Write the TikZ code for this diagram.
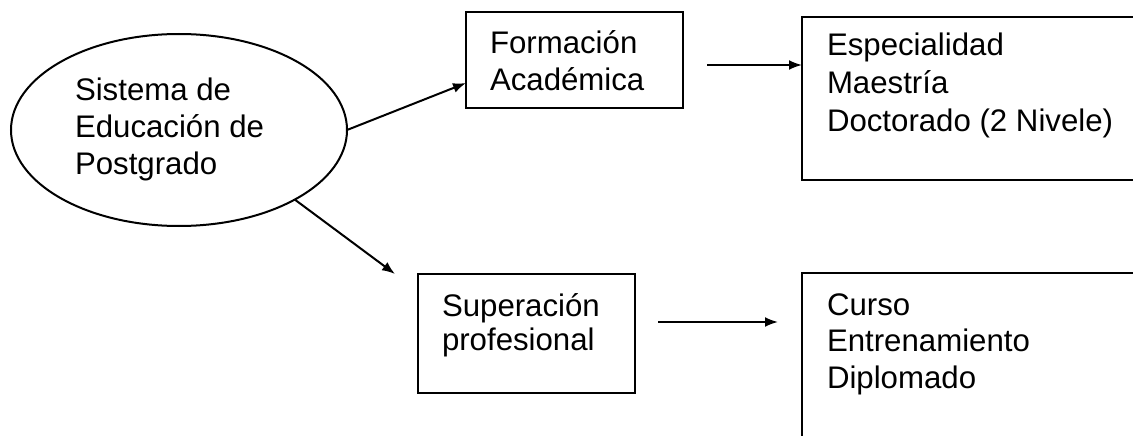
\documentclass[tikz,border=0pt]{standalone}
\usepackage{fontspec}
\setmainfont{Liberation Sans}
\usetikzlibrary{shapes.geometric,arrows.meta}
\begin{document}
\begin{tikzpicture}[x=1pt,y=-1pt,
  every node/.style={inner sep=0pt,outer sep=0pt},
  boxshape/.style={draw,line width=2pt,rectangle,anchor=north west},
  txt/.style={anchor=base west,align=left},
  conn/.style={line width=2pt,-{Latex[length=13pt,width=10pt]}}]
\clip (0,0) rectangle (1133,436);
\fill[white] (0,0) rectangle (1133,436);
\node[draw,line width=2pt,ellipse,minimum width=336pt,minimum height=192pt] (ell) at (179,130) {};
\node[boxshape,minimum width=217pt,minimum height=96pt] (form) at (466,12) {};
\node[boxshape,minimum width=360pt,minimum height=163pt] (esp) at (802,17) {};
\node[boxshape,minimum width=217pt,minimum height=119pt] (sup) at (418,274) {};
\node[boxshape,minimum width=360pt,minimum height=190pt] (cur) at (802,273) {};
\node[txt,font=\fontsize{31.2}{37}\selectfont] (tell) at (75,174) {Sistema de\\Educación de\\Postgrado};
\node[txt,font=\fontsize{31.2}{36}\selectfont] (tform) at (490,90) {Formación\\Académica};
\node[txt,font=\fontsize{31.2}{38}\selectfont] (tesp) at (827,131) {Especialidad\\Maestría\\Doctorado (2 Nivele)};
\node[txt,font=\fontsize{31.2}{34}\selectfont] (tsup) at (442,350) {Superación\\profesional};
\node[txt,font=\fontsize{31.2}{36.5}\selectfont] (tcur) at (827,388) {Curso\\Entrenamiento\\Diplomado};
\draw[conn] (ell.east) -- ([yshift=-23pt]form.west);
\coordinate (a1) at ([xshift=24pt,yshift=-5pt]form.east);
\draw[conn] (a1) -- (a1 -| esp.west);
\draw[conn] (ell.-31) -- ([xshift=-23pt]sup.north west);
\coordinate (s1) at ([xshift=23pt,yshift=11.5pt]sup.east);
\coordinate (c1) at (s1 -| cur.west);
\draw[conn] (s1) -- ([xshift=-24pt]c1);
\end{tikzpicture}
\end{document}
